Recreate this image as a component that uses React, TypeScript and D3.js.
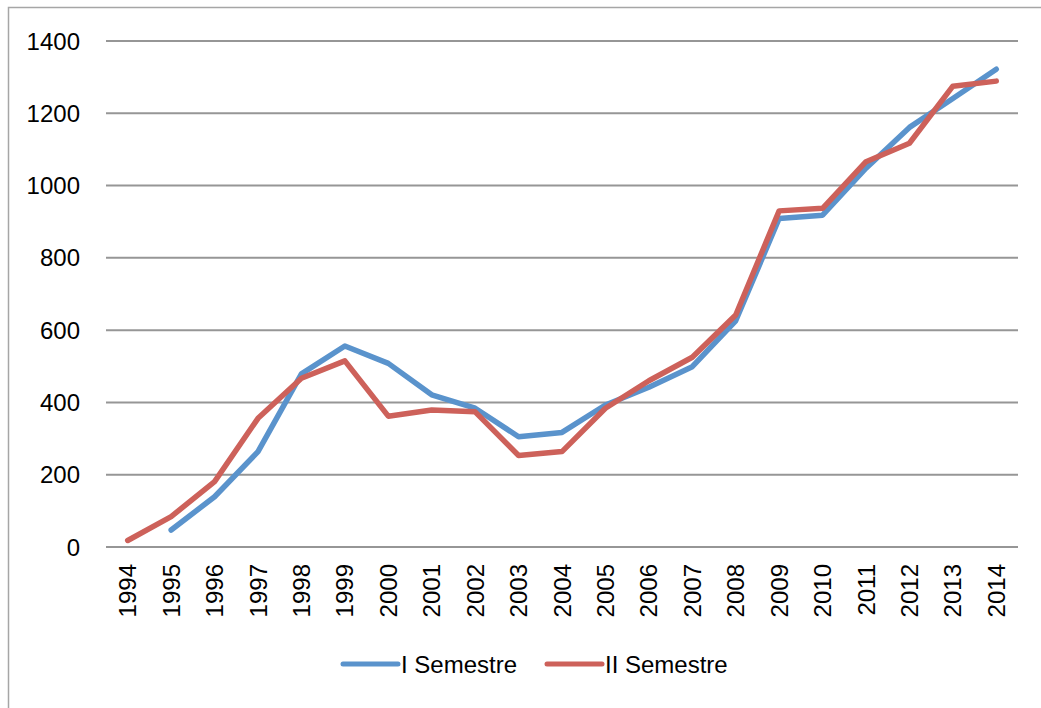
import React from "react";
import * as d3 from "d3";

const years = ["1994","1995","1996","1997","1998","1999","2000","2001","2002","2003","2004","2005","2006","2007","2008","2009","2010","2011","2012","2013","2014"];
const semestreI: (number | null)[] = [null, 47, 139, 264, 479, 556, 508, 421, 384, 305, 317, 393, 442, 499, 626, 909, 918, 1048, 1161, 1241, 1322];
const semestreII: (number | null)[] = [18, 84, 181, 356, 467, 515, 362, 379, 374, 253, 264, 384, 460, 525, 642, 930, 937, 1066, 1117, 1275, 1289];
const yTicks = [0, 200, 400, 600, 800, 1000, 1200, 1400];
const seriesNames = ["I Semestre", "II Semestre"];

const W = 1041, H = 708;
const left = 106, right = 1018, top = 41, bottom = 547;
const colors = ["#5A93CC", "#CD615A"];
const font = "'Liberation Sans', Arial, sans-serif";

export default function App() {
  const x = d3.scaleBand<string>().domain(years).range([left, right]);
  const y = d3.scaleLinear().domain([0, 1400]).range([bottom, top]);
  const cx = (d: string) => (x(d) as number) + x.bandwidth() / 2;
  const line = d3
    .line<[string, number | null]>()
    .defined((d) => d[1] !== null)
    .x((d) => cx(d[0]))
    .y((d) => y(d[1] as number));
  const series = [semestreI, semestreII];

  return (
    <svg width={W} height={H} style={{ position: "absolute", left: 0, top: 0, background: "#fff" }}>
      <rect x={8.5} y={7.5} width={1200} height={900} fill="#fff" stroke="#a6a6a6" strokeWidth={1.5} />
      {yTicks.map((t) => (
        <g key={t}>
          <line x1={left} x2={right} y1={y(t)} y2={y(t)} stroke="#969696" strokeWidth={2} />
          <text x={80} y={y(t) + 8.5} textAnchor="end" fontFamily={font} fontSize={24} fill="#000">
            {t}
          </text>
        </g>
      ))}
      {years.map((yr) => (
        <text
          key={yr}
          transform={`translate(${cx(yr) + 8.5},${564}) rotate(-90)`}
          textAnchor="end"
          fontFamily={font}
          fontSize={24}
          fill="#000"
        >
          {yr}
        </text>
      ))}
      {series.map((s, i) => (
        <path
          key={i}
          d={line(years.map((yr, j) => [yr, s[j]] as [string, number | null])) || ""}
          fill="none"
          stroke={colors[i]}
          strokeWidth={5.5}
          strokeLinejoin="round"
          strokeLinecap="round"
        />
      ))}
      {seriesNames.map((n, i) => {
        const lx = i === 0 ? 343 : 547;
        return (
          <g key={n}>
            <line x1={lx} x2={lx + 55} y1={664} y2={664} stroke={colors[i]} strokeWidth={5} strokeLinecap="round" />
            <text x={lx + 58} y={673} fontFamily={font} fontSize={24} fill="#000">
              {n}
            </text>
          </g>
        );
      })}
    </svg>
  );
}
